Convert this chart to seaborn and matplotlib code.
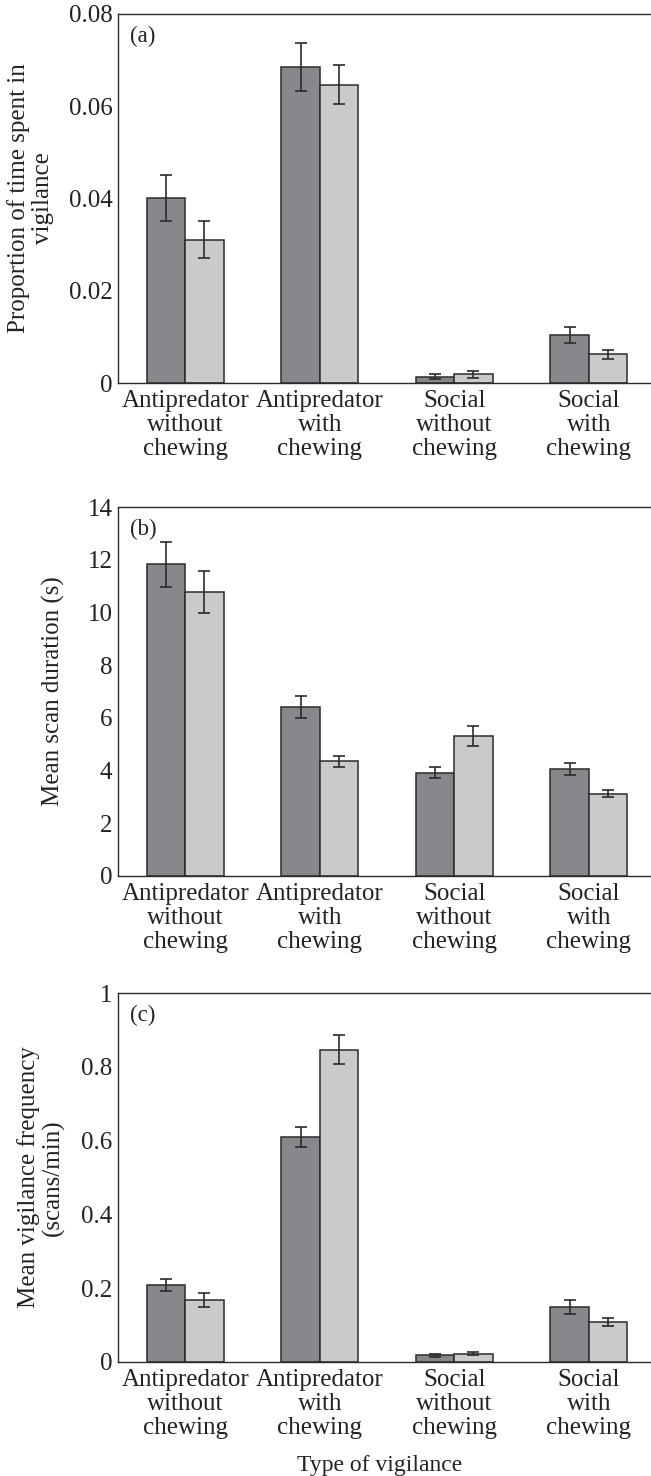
import numpy as np
import pandas as pd
import matplotlib
matplotlib.use("Agg")
import matplotlib.pyplot as plt
import seaborn as sns

# ---------------- data ----------------
categories = ["Antipredator\nwithout\nchewing", "Antipredator\nwith\nchewing",
              "Social\nwithout\nchewing", "Social\nwith\nchewing"]
series_names = ["Series 1", "Series 2"]

# panel (a): proportion of time spent in vigilance
a_s1 = [0.0402, 0.0686, 0.0014, 0.0104]
a_s2 = [0.0311, 0.0647, 0.0019, 0.0062]
a_e1 = [0.0050, 0.0052, 0.0005, 0.0018]
a_e2 = [0.0041, 0.0043, 0.0008, 0.0009]

# panel (b): mean scan duration (s)
b_s1 = [11.83, 6.41, 3.92, 4.05]
b_s2 = [10.77, 4.35, 5.31, 3.13]
b_e1 = [0.86, 0.43, 0.22, 0.23]
b_e2 = [0.80, 0.21, 0.38, 0.15]

# panel (c): mean vigilance frequency (scans/min)
c_s1 = [0.209, 0.610, 0.018, 0.148]
c_s2 = [0.168, 0.846, 0.023, 0.109]
c_e1 = [0.017, 0.027, 0.004, 0.019]
c_e2 = [0.018, 0.039, 0.005, 0.011]

a_ticks = [0, 0.02, 0.04, 0.06, 0.08]
a_ticklabels = ["0", "0.02", "0.04", "0.06", "0.08"]
b_ticks = [0, 2, 4, 6, 8, 10, 12, 14]
b_ticklabels = ["0", "2", "4", "6", "8", "10", "12", "14"]
c_ticks = [0, 0.2, 0.4, 0.6, 0.8, 1.0]
c_ticklabels = ["0", "0.2", "0.4", "0.6", "0.8", "1"]

ylabels = ["Proportion of time spent in\nvigilance",
           "Mean scan duration (s)",
           "Mean vigilance frequency\n(scans/min)"]
panel_labels = ["(a)", "(b)", "(c)"]
xlabel = "Type of vigilance"

# ---------------- style ----------------
sns.set_theme(style="white")
plt.rcParams["font.family"] = ["Liberation Serif", "DejaVu Serif"]

colors = ["#87888c", "#c9cacc"]
edge = "#2b2b2b"
txt = "#222222"

fig = plt.figure(figsize=(6.51, 14.76), dpi=100)
W, H = 651.0, 1476.0
left_px, width_px, height_px = 118.0, 538.0, 369.0
bottoms_px = [383.0, 876.0, 1362.0]

panels = [
    (a_s1, a_s2, a_e1, a_e2, a_ticks, a_ticklabels, (0, 0.08)),
    (b_s1, b_s2, b_e1, b_e2, b_ticks, b_ticklabels, (0, 14)),
    (c_s1, c_s2, c_e1, c_e2, c_ticks, c_ticklabels, (0, 1.0)),
]
ylabel_x_px = [54.0, 65.0, 65.0]

for i, (s1, s2, e1, e2, yt, ytl, ylim) in enumerate(panels):
    ax = fig.add_axes([left_px / W, 1 - bottoms_px[i] / H, width_px / W, height_px / H])
    df = pd.DataFrame({
        "category": categories * 2,
        "series": [series_names[0]] * 4 + [series_names[1]] * 4,
        "value": list(s1) + list(s2),
    })
    sns.barplot(data=df, x="category", y="value", hue="series",
                order=categories, hue_order=series_names,
                palette=colors, width=0.57, errorbar=None,
                edgecolor=edge, linewidth=1.1, saturation=1.0,
                legend=False, ax=ax)
    # error bars at the centres of the drawn bars
    patches = list(ax.patches)[:8]
    xs = [p.get_x() + p.get_width() / 2 for p in patches]
    hs = [p.get_height() for p in patches]
    errs = list(e1) + list(e2)
    ax.errorbar(xs, hs, yerr=errs, fmt="none", ecolor=edge,
                elinewidth=1.2, capsize=4, capthick=1.2, zorder=5)

    ax.set_xlim(-0.5, 3.5)
    ax.set_ylim(*ylim)
    ax.set_yticks(yt)
    ax.set_yticklabels(ytl)
    ax.set_xticks(range(4))
    ax.set_xticklabels(categories, linespacing=1.12)
    ax.set_xticks([0.5, 1.5, 2.5], minor=True)
    ax.tick_params(axis="x", which="major", length=0, pad=5, labelsize=18, colors=txt)
    ax.tick_params(axis="x", which="minor", length=7, width=1.0, direction="in", color=edge)
    ax.tick_params(axis="y", which="major", length=0, pad=4, labelsize=18, colors=txt)
    for sp in ["top", "left", "bottom"]:
        ax.spines[sp].set_visible(True)
        ax.spines[sp].set_color(edge)
        ax.spines[sp].set_linewidth(1.0)
    ax.spines["right"].set_visible(False)
    ax.set_xlabel("")
    ax.set_ylabel(ylabels[i], fontsize=18, color=txt, linespacing=1.12)
    ax.yaxis.set_label_coords((ylabel_x_px[i] - left_px) / width_px, 0.5)
    ax.text(0.022, 0.968, panel_labels[i], transform=ax.transAxes,
            ha="left", va="top", fontsize=16.5, color=txt)
    ax.grid(False)
    if i == 2:
        ax.set_xlabel(xlabel, fontsize=17, color=txt)
        ax.xaxis.set_label_coords((380 - left_px) / width_px, -0.253)

fig.savefig("out.png", dpi=100)
